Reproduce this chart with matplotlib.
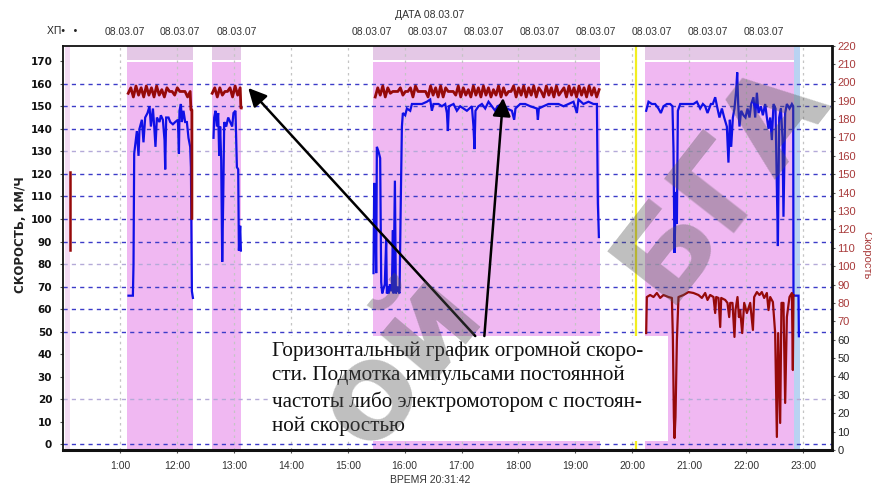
import numpy as np
import matplotlib
matplotlib.use("Agg")
import matplotlib.pyplot as plt
from matplotlib.patches import Rectangle
from matplotlib.transforms import blended_transform_factory

# ---------------- data ----------------
hour_ticks = [11, 12, 13, 14, 15, 16, 17, 18, 19, 20, 21, 22, 23]
hour_labels = ["1:00", "12:00", "13:00", "14:00", "15:00", "16:00", "17:00",
               "18:00", "19:00", "20:00", "21:00", "22:00", "23:00"]
date_hours = [11.088, 12.054, 13.056, 15.429, 16.413, 17.397, 18.381,
              19.366, 20.350, 21.334, 22.318]
date_labels = ["08.03.07"] * 11

left_ticks = list(range(0, 171, 10))
right_ticks = list(range(0, 221, 10))

pink_spans = [(11.128, 12.288), (12.611, 13.127), (15.441, 19.424), (20.227, 22.845)]
faint_span = (10.033, 10.121)
blue_strip = (22.845, 22.95)
yellow_mark = 20.069

blue1_t = [11.146, 11.223, 11.234, 11.246, 11.293, 11.322, 11.339, 11.381, 11.409, 11.439,
           11.480, 11.515, 11.540, 11.575, 11.598, 11.620, 11.645, 11.691, 11.715, 11.750,
           11.779, 11.791, 11.808, 11.849, 11.879, 11.926, 11.967, 12.014, 12.032, 12.042,
           12.067, 12.084, 12.112, 12.142, 12.172, 12.200, 12.230, 12.243, 12.260, 12.278]
blue1_v = [66, 66, 80, 129, 139, 128, 140, 144, 134, 145, 147, 150, 141, 149, 141, 132, 145,
           143, 146, 144, 135, 122, 145, 145, 143, 142, 143, 144, 129, 148, 151, 143, 148,
           143, 143, 136, 132, 123, 68, 65]

blue2_t = [12.640, 12.652, 12.675, 12.699, 12.722, 12.740, 12.757, 12.775, 12.793, 12.810,
           12.828, 12.863, 12.898, 12.933, 12.968, 12.991, 13.026, 13.051, 13.074, 13.086,
           13.109, 13.121]
blue2_v = [136, 145, 148, 141, 147, 128, 141, 126, 81, 108, 143, 141, 145, 143, 141, 147,
           148, 123, 122, 86, 97, 86]

blue3_t = [15.452, 15.464, 15.482, 15.499, 15.511, 15.539, 15.569, 15.587, 15.605, 15.627,
           15.650, 15.675, 15.687, 15.700, 15.720, 15.740, 15.760, 15.775, 15.793, 15.803,
           15.828, 15.845, 15.870, 15.890, 15.909, 15.933, 15.951, 15.968, 16.009, 16.039,
           16.097, 16.127, 16.167, 16.243, 16.302, 16.390, 16.448, 16.478, 16.506, 16.594,
           16.654, 16.712, 16.742, 16.759, 16.777, 16.858, 16.917, 16.975, 17.033, 17.093,
           17.181, 17.209, 17.227, 17.244, 17.297, 17.357, 17.415, 17.473, 17.532, 17.590,
           17.631, 17.708, 17.796, 17.884, 17.924, 17.947, 18.030, 18.118, 18.206, 18.323,
           18.341, 18.358, 18.439, 18.527, 18.615, 18.703, 18.791, 18.879, 18.967, 19.026,
           19.054, 19.142, 19.230, 19.318, 19.378, 19.395, 19.413]
blue3_v = [76, 116, 108, 76, 132, 130, 127, 72, 67, 69,
           71, 91, 67, 70, 67, 71, 68, 69, 95, 67,
           117, 67, 70, 68, 67, 111, 141, 147, 146, 149,
           148, 151, 151, 151, 151, 152, 153, 148, 151, 151,
           150, 151, 147, 139, 150, 151, 148, 150, 149, 148,
           150, 141, 131, 148, 150, 151, 149, 152, 150, 148,
           150, 151, 149, 148, 144, 149, 151, 151, 150, 149,
           144, 149, 150, 151, 151, 151, 150, 151, 152, 147,
           153, 151, 152, 151, 151, 107, 92]

blue4_t = [20.244, 20.285, 20.344, 20.402, 20.460, 20.502, 20.548, 20.608, 20.666, 20.706,
           20.724, 20.742, 20.766, 20.784, 20.801, 20.842, 20.900, 20.988, 21.075, 21.135,
           21.193, 21.241, 21.281, 21.322, 21.352, 21.381, 21.416, 21.457, 21.497, 21.532,
           21.575, 21.615, 21.662, 21.690, 21.715, 21.738, 21.768, 21.796, 21.826, 21.844,
           21.861, 21.884, 21.914, 21.954, 21.989, 22.025, 22.060, 22.090, 22.130, 22.160,
           22.190, 22.218, 22.260, 22.295, 22.336, 22.365, 22.394, 22.424, 22.453, 22.482,
           22.517, 22.541, 22.559, 22.582, 22.612, 22.640, 22.657, 22.687, 22.717, 22.763,
           22.805, 22.828, 22.833, 22.921, 22.928]
blue4_v = [148, 152, 151, 151, 149, 147, 150, 151, 151, 150,
           131, 85, 112, 98, 148, 151, 151, 151, 151, 152,
           149, 151, 150, 147, 149, 151, 151, 154, 149, 145,
           149, 145, 141, 125, 144, 132, 145, 149, 157, 165,
           151, 141, 148, 146, 145, 149, 145, 151, 154, 145,
           156, 147, 150, 146, 151, 145, 140, 145, 135, 151,
           149, 114, 88, 145, 149, 136, 101, 147, 151, 149,
           151, 150, 66, 66, 48]

# red series (right axis)
red0_t = [10.11, 10.11]
red0_v = [151, 109]

red1_start, red1_end = 11.141, 12.230
red1_v = [194, 197, 192, 198, 193, 197, 192, 198, 193, 197, 192, 198, 193, 196, 192,
          197, 195, 195, 193, 197, 195, 195, 195, 192, 195]
red1_tail_t = [12.243, 12.260, 12.260]
red1_tail_v = [185, 185, 126]

red2_start, red2_end = 12.617, 13.109
red2_v = [194, 197, 192, 197, 193, 195, 195, 197, 192, 198, 193, 197]
red2_tail_t = [13.121, 13.127]
red2_tail_v = [186, 186]

red3_start, red3_end = 15.482, 19.418
red3_v = [192, 197, 193, 198, 192, 197, 194,
          195, 195, 195, 197, 193, 195, 195,
          197, 192, 198,
          195, 195, 195, 195,
          192, 198, 193, 197, 192, 198, 192, 197,
          195, 195, 195,
          193, 198, 192, 197, 193, 196, 192, 198, 193, 197, 192, 198, 193, 197, 192, 196,
          193, 198, 192, 197, 193,
          195, 195,
          198, 192, 197, 193, 198, 192, 197, 193, 198, 192, 197,
          195,
          192, 198, 193, 197, 192, 198, 193,
          195,
          197, 192, 198, 193, 197, 192, 198, 193, 197, 192, 198, 193, 197, 192, 196]

red4_t = [20.244, 20.256, 20.314, 20.373, 20.432, 20.490, 20.548, 20.636, 20.696, 20.713,
          20.731, 20.742, 20.759, 20.784, 20.812, 20.900, 20.988, 21.075, 21.163, 21.223,
          21.281, 21.322, 21.369, 21.427, 21.457, 21.475, 21.515, 21.545, 21.563, 21.633,
          21.673, 21.703, 21.721, 21.761, 21.796, 21.814, 21.849, 21.874, 21.896, 21.932,
          21.967, 22.014, 22.072, 22.120, 22.142, 22.190, 22.235, 22.277, 22.318, 22.365,
          22.394, 22.424, 22.471, 22.511, 22.541, 22.564, 22.599, 22.622, 22.657, 22.687,
          22.717, 22.763, 22.805, 22.822, 22.833]
red4_v = [63.6, 83.2, 84.3, 83.2, 85.4, 82.7, 84.3, 83.2, 82.7, 61.5,
          17.9, 6.5, 17.9, 59.8, 83.2, 84.3, 85.9, 85.4, 84.3, 82.7,
          85.4, 81.6, 84.3, 83.2, 74.5, 83.2, 82.7, 66.9, 82.7, 81.6,
          80.0, 72.3, 80.0, 80.0, 61.5, 76.1, 83.2, 72.3, 76.1, 63.6,
          80.0, 74.5, 80.0, 65.3, 83.2, 85.9, 84.3, 85.9, 82.7, 85.4,
          76.1, 83.2, 80.5, 63.6, 7.1, 63.6, 14.7, 80.0, 80.0, 25.6,
          72.3, 83.2, 85.4, 43.5, 84.3]

grid_blue = [160, 150, 140, 120, 110, 100, 90, 70, 60, 50, 0]
grid_light = [130, 80, 20]

note_text = ("Горизонтальный график огромной скоро-\n"
             "сти. Подмотка импульсами постоянной\n"
             "частоты либо электромотором с постоян-\n"
             "ной скоростью")

# ---------------- figure ----------------
W, H = 872, 488
fig = plt.figure(figsize=(W / 100, H / 100), dpi=100)
fig.patch.set_facecolor("white")
ax = fig.add_axes([63.3 / W, 1 - 450 / H, (832 - 63.3) / W, (450 - 45.5) / H])
ax.set_xlim(10.0, 23.51)
ax.set_ylim(-2.44, 176.94)
ax.set_facecolor("white")

PINK = "#f0b8f2"
TOP_PINK = "#e4c8e6"
for a, b in pink_spans:
    ax.axvspan(a, b, ymin=0, ymax=0.958, color=PINK, lw=0, zorder=1)
    ax.axvspan(a, b, ymin=0.964, ymax=1, color=TOP_PINK, lw=0, zorder=1)
ax.axvspan(*faint_span, color="#f4dcf4", lw=0, zorder=1)
ax.axvspan(*blue_strip, color="#b9d3f2", lw=0, zorder=1)
ax.axvline(yellow_mark, color="#f2ee20", lw=1.6, zorder=2)

for h in hour_ticks:
    ax.axvline(h, color="#c4c4c4", lw=0.9, ls=(0, (2, 3)), zorder=2)
for v in grid_blue:
    ax.axhline(v, color="#3c3cc8", lw=1.0, ls=(0, (3, 3)), zorder=2)
for v in grid_light:
    ax.axhline(v, color="#b4aad8", lw=1.0, ls=(0, (3, 3)), zorder=2)

# white text box
ax.add_patch(Rectangle((13.60, 1.5), 20.63 - 13.60, 48.2 - 1.5, facecolor="white",
                       edgecolor="none", zorder=3))
ax.text(13.67, 45.8, note_text, family="Liberation Serif", fontsize=15.2, va="top",
        ha="left", linespacing=1.36, color="#111111", zorder=5)

BLUE = "#1010e6"
for t, v in [(blue1_t, blue1_v), (blue2_t, blue2_v), (blue3_t, blue3_v), (blue4_t, blue4_v)]:
    ax.plot(t, v, color=BLUE, lw=1.6, zorder=4, solid_joinstyle="miter")

ax.set_xticks(hour_ticks)
ax.set_xticklabels(hour_labels, fontsize=7.5, color="#333333", family="Liberation Sans")
ax.tick_params(axis="x", length=2, pad=6, color="#555555")
ax.set_yticks(left_ticks)
ax.set_yticklabels([str(v) for v in left_ticks], fontsize=7.5, fontweight="bold",
                   color="#111111")
ax.tick_params(axis="y", length=2, pad=6, color="#555555")

for s in ["left", "top"]:
    ax.spines[s].set_linewidth(1.3)
    ax.spines[s].set_color("#111111")
ax.spines["bottom"].set_linewidth(2.2)
ax.spines["bottom"].set_color("#111111")

ax2 = ax.twinx()
ax2.set_ylim(0, 220)
ax2.set_yticks(right_ticks)
ax2.set_yticklabels([str(v) for v in right_ticks], fontsize=8, family="Liberation Sans")
for lbl, v in zip(ax2.get_yticklabels(), right_ticks):
    lbl.set_color("#a83a3a" if v >= 70 else "#222222")
ax2.tick_params(axis="y", length=2, pad=2, color="#555555")
ax2.spines["right"].set_linewidth(2.0)
ax2.spines["right"].set_color("#111111")
for s in ["left", "top", "bottom"]:
    ax2.spines[s].set_visible(False)

RED = "#960a0a"
ax2.plot(red0_t, red0_v, color=RED, lw=1.8, zorder=4)
t1 = np.linspace(red1_start, red1_end, len(red1_v))
ax2.plot(list(t1) + red1_tail_t, red1_v + red1_tail_v, color=RED, lw=2.0, zorder=4)
t2 = np.linspace(red2_start, red2_end, len(red2_v))
ax2.plot(list(t2) + red2_tail_t, red2_v + red2_tail_v, color=RED, lw=2.0, zorder=4)
t3 = np.linspace(red3_start, red3_end, len(red3_v))
ax2.plot(t3, red3_v, color=RED, lw=2.0, zorder=4)
ax2.plot(red4_t, red4_v, color=RED, lw=1.6, zorder=4)

# arrows (drawn on top, positioned in left-axis data coordinates)
arrow_kw = dict(arrowstyle="-|>,head_length=1.1,head_width=0.55", color="black", lw=1.8,
                shrinkA=0, shrinkB=0)
ax2.annotate("", xy=(13.25, 158.1), xytext=(17.24, 48.1), xycoords=ax.transData,
             textcoords=ax.transData, arrowprops=arrow_kw, zorder=8, annotation_clip=False)
ax2.annotate("", xy=(17.73, 153.7), xytext=(17.40, 48.1), xycoords=ax.transData,
             textcoords=ax.transData, arrowprops=arrow_kw, zorder=8, annotation_clip=False)

# top date labels
trans = blended_transform_factory(ax.transData, ax.transAxes)
for h, lab in zip(date_hours, date_labels):
    ax.text(h, 1.034, lab, transform=trans, ha="center", va="center", fontsize=7.5,
            color="#333333", family="Liberation Sans", clip_on=False)

fig.text(430 / W, 1 - 15 / H, "ДАТА 08.03.07", ha="center", va="center", fontsize=7.5,
         color="#333333", family="Liberation Sans")
fig.text(430 / W, 1 - 480 / H, "ВРЕМЯ 20:31:42", ha="center", va="center", fontsize=7.5,
         color="#333333", family="Liberation Sans")
fig.text(47 / W, 1 - 31 / H, "ХП•   •", ha="left", va="center", fontsize=7.5,
         color="#222222", family="Liberation Sans")
fig.text(20 / W, 1 - 235 / H, "СКОРОСТЬ, КМ/Ч", rotation=90, ha="center", va="center",
         fontsize=8.5, fontweight="bold", color="#222222")
fig.text(866 / W, 1 - 255 / H, "Скорость", rotation=270, ha="center", va="center",
         fontsize=8, color="#a83a3a", family="Liberation Sans")

# watermark
fig.text(400 / W, 1 - 360 / H, "ой", rotation=50, ha="center", va="center",
         fontsize=95, fontweight="bold", color="#555555", alpha=0.38, zorder=20)
fig.text(722 / W, 1 - 180 / H, "БГА", rotation=52, ha="center", va="center",
         fontsize=88, fontweight="bold", color="#555555", alpha=0.38, zorder=20)

fig.savefig("out.png", dpi=100, facecolor="white")
